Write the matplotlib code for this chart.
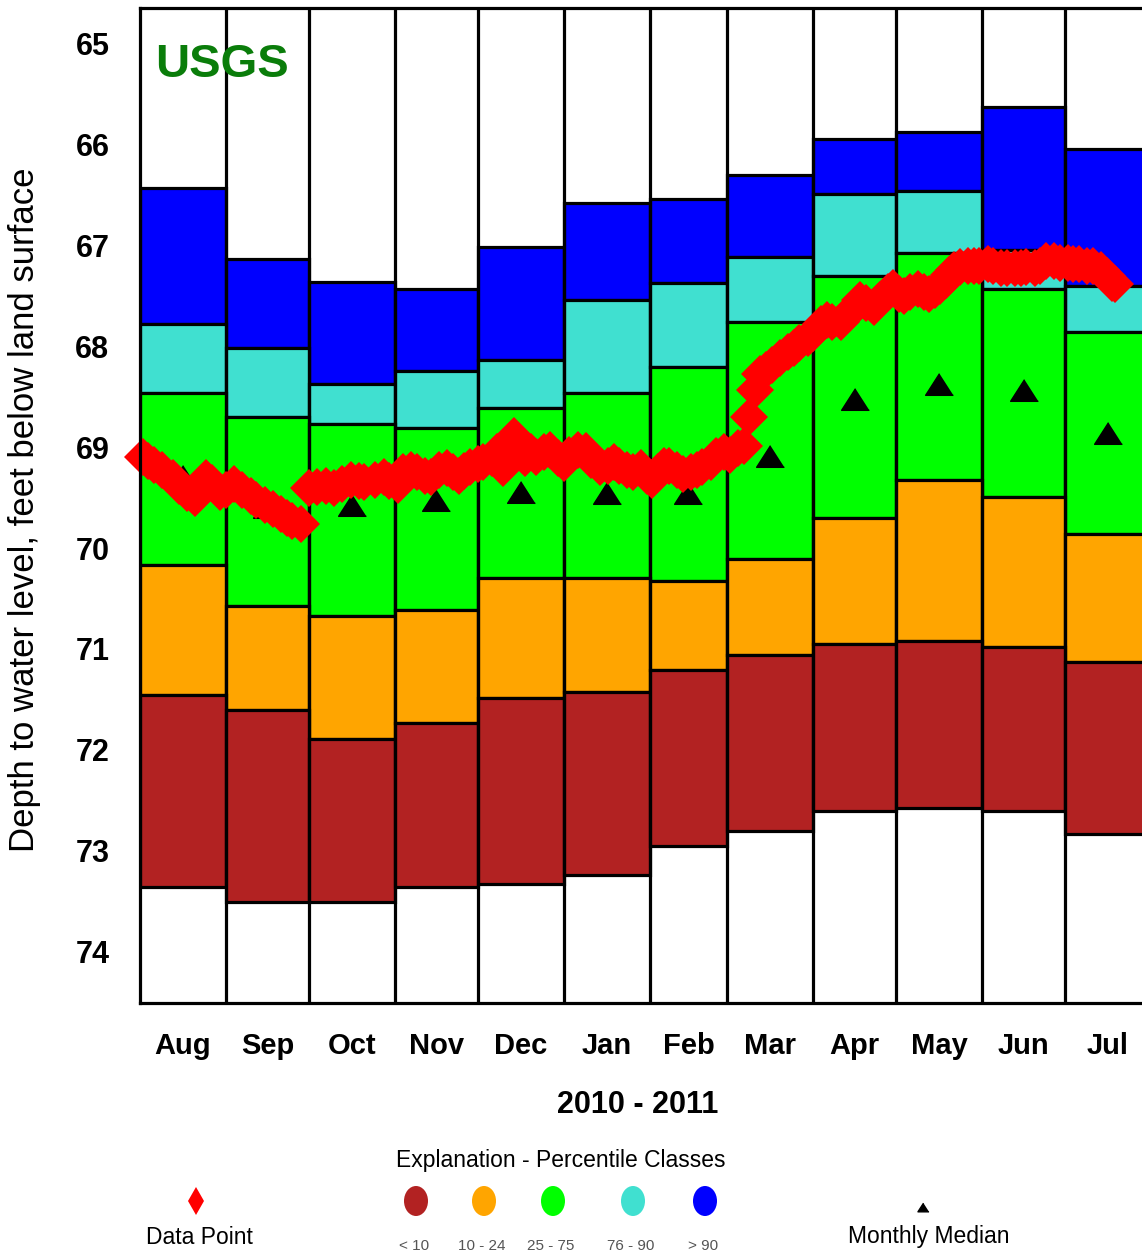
import numpy as np
import matplotlib
matplotlib.use("Agg")
import matplotlib.pyplot as plt
from matplotlib.patches import Ellipse

plt.rcParams['font.family'] = ['Liberation Sans', 'DejaVu Sans']

# months of the 2010-2011 water year shown, and their lengths in days
months = ['Aug', 'Sep', 'Oct', 'Nov', 'Dec', 'Jan', 'Feb', 'Mar', 'Apr', 'May', 'Jun', 'Jul']
month_days = [31, 30, 31, 30, 31, 31, 28, 31, 30, 31, 30, 31]

# percentile class boundaries (feet below land surface) for each month
lvl_max = [66.43, 67.14, 67.36, 67.43, 67.02, 66.58, 66.54, 66.30, 65.95, 65.88, 65.63, 66.05]
lvl_p90 = [67.78, 68.02, 68.37, 68.25, 68.14, 67.54, 67.37, 67.12, 66.49, 66.46, 67.05, 67.40]
lvl_p75 = [68.46, 68.70, 68.77, 68.81, 68.61, 68.46, 68.21, 67.76, 67.30, 67.08, 67.43, 67.86]
lvl_p25 = [70.17, 70.57, 70.67, 70.61, 70.30, 70.30, 70.33, 70.11, 69.70, 69.33, 69.49, 69.86]
lvl_p10 = [71.46, 71.61, 71.89, 71.73, 71.49, 71.43, 71.21, 71.06, 70.95, 70.92, 70.98, 71.13]
lvl_min = [73.36, 73.51, 73.51, 73.36, 73.33, 73.24, 72.95, 72.80, 72.61, 72.58, 72.61, 72.83]

# long-term monthly medians
monthly_median = [69.29, 69.59, 69.57, 69.52, 69.44, 69.45, 69.45, 69.09, 68.52, 68.37, 68.43, 68.86]

# measured depths, day counted from Aug 1 2010
obs_day = [1, 3, 5, 8, 12, 14, 17, 20, 24, 26, 29, 31, 34, 37, 40, 42, 45, 48, 51, 53,
           55, 58, 61, 64, 67, 70, 73, 76, 79, 81, 85, 88, 90, 93, 95, 98, 100, 103, 105, 108,
           111, 113, 115, 117, 119, 122, 124, 127, 129, 131, 133, 135, 137, 139, 141, 143, 146, 148, 151, 153,
           155, 158, 161, 163, 166, 169, 171, 173, 176, 178, 181, 183, 185, 187, 189, 191, 194, 196, 199, 201,
           203, 206, 208, 211, 213, 216, 218, 220, 222, 224, 226, 228, 231, 234, 236, 238, 241, 243, 246, 248,
           250, 253, 255, 257, 260, 262, 265, 267, 270, 272, 274, 276, 278, 281, 283, 285, 287, 289, 291, 292,
           294, 296, 299, 301, 303, 306, 308, 311, 313, 316, 318, 320, 323, 325, 327, 330, 332, 335, 337, 339,
           342, 344, 347, 349, 351, 352]
obs_depth = [69.10, 69.14, 69.18, 69.23, 69.31, 69.39, 69.45, 69.50, 69.31, 69.36, 69.44, 69.42, 69.37, 69.42, 69.48, 69.52, 69.57, 69.61, 69.66, 69.70,
             69.73, 69.76, 69.41, 69.40, 69.39, 69.41, 69.37, 69.33, 69.34, 69.35, 69.33, 69.30, 69.34, 69.38, 69.25, 69.23, 69.25, 69.29, 69.30, 69.23,
             69.21, 69.25, 69.29, 69.24, 69.20, 69.17, 69.15, 69.11, 69.05, 69.21, 68.98, 68.89, 69.01, 69.11, 69.05, 69.10, 69.05, 69.03, 69.11, 69.16,
             69.08, 69.03, 69.04, 69.13, 69.20, 69.19, 69.15, 69.19, 69.23, 69.25, 69.21, 69.29, 69.33, 69.25, 69.19, 69.19, 69.23, 69.27, 69.25, 69.23,
             69.20, 69.15, 69.09, 69.05, 69.08, 69.01, 68.99, 68.70, 68.43, 68.28, 68.24, 68.19, 68.12, 68.06, 68.02, 67.97, 67.92, 67.87, 67.78, 67.74,
             67.76, 67.76, 67.70, 67.64, 67.54, 67.57, 67.61, 67.54, 67.46, 67.42, 67.48, 67.50, 67.46, 67.43, 67.46, 67.48, 67.44, 67.40, 67.34, 67.29,
             67.24, 67.21, 67.20, 67.20, 67.20, 67.19, 67.20, 67.22, 67.22, 67.22, 67.22, 67.21, 67.22, 67.20, 67.16, 67.16, 67.18, 67.18, 67.19, 67.19,
             67.20, 67.20, 67.24, 67.30, 67.37, 67.38]

class_colors = ['#0000FF', '#40E0D0', '#00FF00', '#FFA500', '#B22222']
class_labels = ['> 90', '76 - 90', '25 - 75', '10 - 24', '< 10']

W, H = 1142, 1256
fig = plt.figure(figsize=(W / 100, H / 100), dpi=100)
fig.patch.set_facecolor('white')
ax = fig.add_axes([140 / W, 1 - 1003 / H, (1151 - 140) / W, (1003 - 8) / H])

starts = np.concatenate([[0], np.cumsum(month_days)[:-1]])
mids = starts + np.array(month_days) / 2.0
edge_lw = 2.3

# percentile bands, top (shallow) to bottom (deep)
bounds = [lvl_max, lvl_p90, lvl_p75, lvl_p25, lvl_p10, lvl_min]
for i, col in enumerate(class_colors):
    top = np.array(bounds[i])
    bot = np.array(bounds[i + 1])
    ax.bar(starts, bot - top, bottom=top, width=month_days, align='edge',
           color=col, edgecolor='black', linewidth=edge_lw, zorder=2)

for s in np.cumsum(month_days)[:-1]:
    ax.axvline(s, color='black', lw=edge_lw, zorder=3)

# medians and the data points
tri = [(0, 0.78), (-1, -0.78), (1, -0.78)]
ax.plot(mids, monthly_median, ls='none', marker=tri, ms=20, color='black', zorder=4)
ax.plot(obs_day, obs_depth, ls='none', marker='D', ms=19, color='#FF0000',
        markeredgewidth=0, zorder=5, clip_on=False)

ax.set_xlim(0, 365)
ax.set_ylim(74.509, 64.648)
ax.set_yticks(range(65, 75))
ax.set_yticklabels([str(v) for v in range(65, 75)], fontsize=22, fontweight='bold')
ax.set_xticks(mids)
ax.set_xticklabels(months, fontsize=21, fontweight='bold')
ax.tick_params(axis='both', length=0)
ax.tick_params(axis='y', pad=22)
ax.tick_params(axis='x', pad=21)
for sp in ax.spines.values():
    sp.set_linewidth(edge_lw)
    sp.set_zorder(6)

ax.text(0.015, 0.965, 'USGS', transform=ax.transAxes, color='#0A7D0A',
        fontsize=34, fontweight='bold', ha='left', va='top', zorder=7)

fig.text(25 / W, 1 - 510 / H, 'Depth to water level, feet below land surface',
         rotation=90, ha='center', va='center', fontsize=25)
fig.text(638 / W, 1 - 1105 / H, '2010 - 2011', ha='center', va='center',
         fontsize=22, fontweight='bold')
fig.text(561 / W, 1 - 1160 / H, 'Explanation - Percentile Classes',
         ha='center', va='center', fontsize=16.5)

# explanation key drawn in pixel coordinates
key = fig.add_axes([0, 0, 1, 1], zorder=10)
key.set_xlim(0, W)
key.set_ylim(H, 0)
key.axis('off')
key.patch.set_alpha(0)

key.plot([196], [1201], ls='none', marker='d', ms=14, color='#FF0000', markeredgewidth=0)
key.text(199, 1237, 'Data Point', ha='center', va='center', fontsize=16.5)

circle_x = [705, 633, 553, 484, 416]
for cx, col, lab in zip(circle_x, class_colors, class_labels):
    key.add_patch(Ellipse((cx, 1201), 24, 30, facecolor=col, edgecolor='none'))
    key.text(cx - 2, 1246, lab, ha='center', va='center', fontsize=11, color='#555555')

key.plot([923], [1207], ls='none', marker=tri, ms=8, color='black')
key.text(929, 1237, 'Monthly Median', ha='center', va='center', fontsize=16.5)

fig.savefig('out.png', dpi=100)
